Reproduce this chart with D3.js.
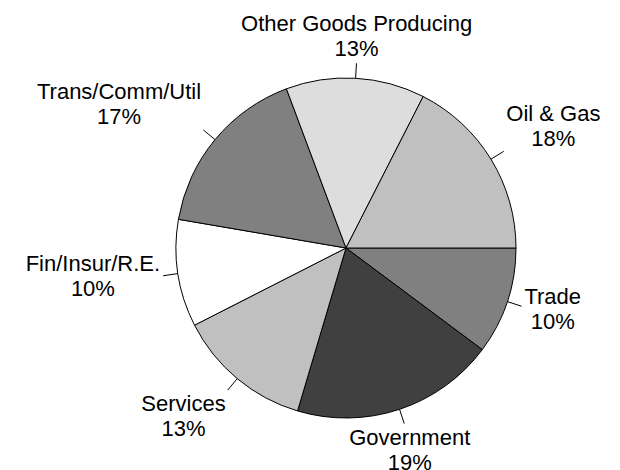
<!DOCTYPE html>
<html>
<head>
<meta charset="utf-8">
<script src="https://cdn.jsdelivr.net/npm/d3@7"></script>
<style>
  body { margin: 0; background: #fff; }
  text { font-family: "Liberation Sans", Arial, sans-serif; }
</style>
</head>
<body>
<div id="chart"></div>
<script>
// slices clockwise starting at 3 o'clock
const categories = ["Trade", "Government", "Services", "Fin/Insur/R.E.", "Trans/Comm/Util", "Other Goods Producing", "Oil & Gas"]
const shares = [10.2, 19.4, 12.9, 10.2, 16.6, 13.2, 17.5]
const fills = ["#808080", "#404040", "#c0c0c0", "#ffffff", "#808080", "#dddddd", "#c0c0c0"]

const width = 620, height = 470
const cx = 346, cy = 248, radius = 170
const leader = 15, gap = 3
const fontSize = 22, lineH = 25

const data = categories.map((c, i) => ({name: c, value: shares[i], fill: fills[i]}))

const svg = d3.select("#chart")
    .append("svg")
    .attr("width", width)
    .attr("height", height)

svg.append("rect")
    .attr("width", width)
    .attr("height", height)
    .attr("fill", "#fff")

const g = svg.append("g")
    .attr("transform", `translate(${cx}, ${cy})`)

const pie = d3.pie()
    .sort(null)
    .value(d => d.value)
    .startAngle(Math.PI / 2)
    .endAngle(Math.PI / 2 + 2 * Math.PI)

const arc = d3.arc()
    .innerRadius(0)
    .outerRadius(radius)

const arcs = pie(data)

g.selectAll("path.slice")
    .data(arcs)
    .join("path")
    .attr("class", "slice")
    .attr("d", arc)
    .attr("fill", d => d.data.fill)
    .attr("stroke", "#000")
    .attr("stroke-width", 1)

// how far the label box is pushed to one side, Excel style:
// near an axis the box is centred, on diagonals it sits on the corner
function push(c) {
    const v = Math.max(0, Math.min(1, (Math.abs(c) - 0.3) / 0.2))
    return Math.sign(c) * v
}

arcs.forEach(function(d) {
    const a = (d.startAngle + d.endAngle) / 2
    const dx = Math.sin(a), dy = -Math.cos(a)
    const x1 = dx * radius, y1 = dy * radius
    const x2 = dx * (radius + leader), y2 = dy * (radius + leader)

    g.append("line")
        .attr("x1", x1).attr("y1", y1)
        .attr("x2", x2).attr("y2", y2)
        .attr("stroke", "#000")
        .attr("stroke-width", 1)

    const t = g.append("text")
        .attr("font-size", fontSize + "px")
        .attr("fill", "#000")
        .attr("text-anchor", "middle")
    const l1 = t.append("tspan").text(d.data.name)
    const l2 = t.append("tspan").text(Math.round(d.data.value) + "%")

    const w = Math.max(l1.node().getComputedTextLength(), l2.node().getComputedTextLength())
    const h = 48
    const lx = x2 + push(dx) * w / 2 + dx * gap
    const ly = y2 + push(dy) * h / 2 + dy * gap
    const top = ly - h / 2

    l1.attr("x", lx).attr("y", top + 19)
    l2.attr("x", lx).attr("y", top + 19 + lineH)
})
</script>
</body>
</html>
